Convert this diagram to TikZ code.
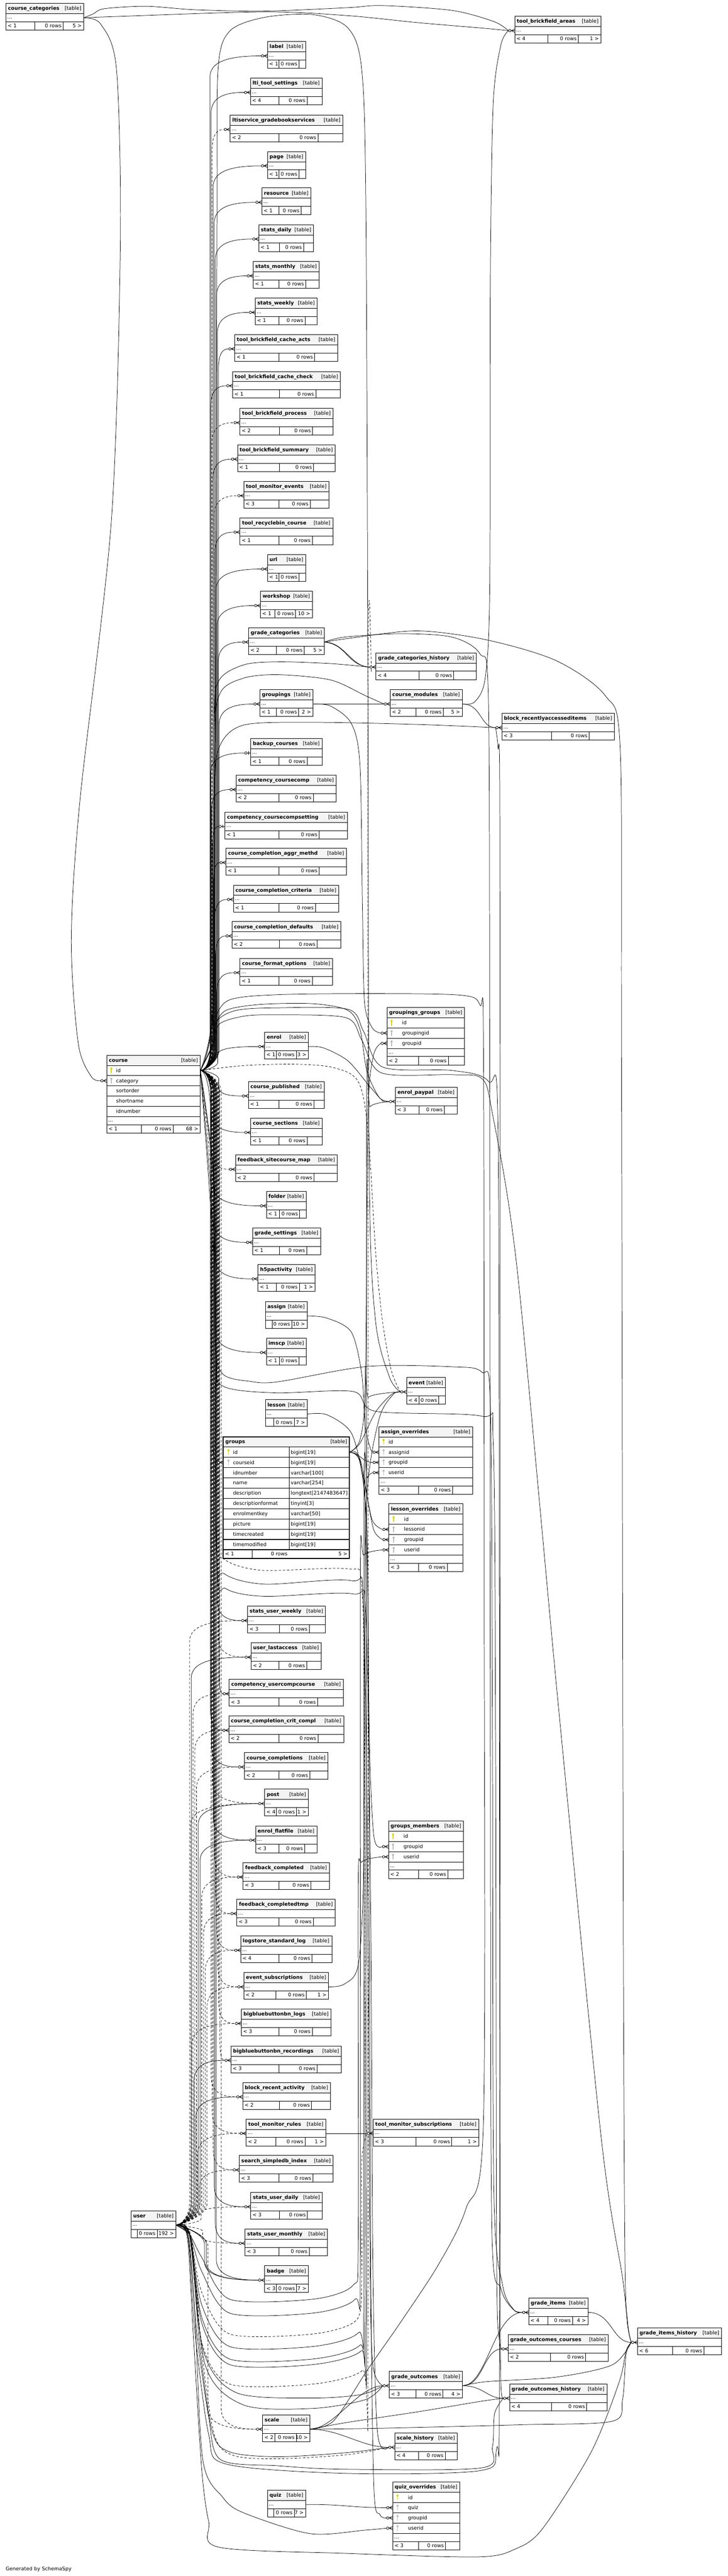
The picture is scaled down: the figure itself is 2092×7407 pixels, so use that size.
\documentclass[tikz,border=0pt]{standalone}
\usepackage{fontspec}
\setmainfont{DejaVu Sans}
\usetikzlibrary{calc}
\pgfdeclarelayer{fg}
\pgfsetlayers{main,fg}
\definecolor{hdr}{HTML}{F4F4F4}
\definecolor{pkc}{HTML}{D8D800}
\definecolor{fkc}{HTML}{BDBDBD}
\newcommand\tabfont{\fontsize{7.25pt}{8.7pt}\selectfont}
\tikzset{
 tb/.style={line width=0.65pt},
 rel/.style={line width=0.55pt},
 imp/.style={dash pattern=on 3.5pt off 2.5pt},
 mkl/.style={line width=0.6pt},
 txt/.style={inner sep=0pt, outer sep=0pt, font=\tabfont},
}
% simple table: id name x0 x1 y0 L R d1 d2
\newcommand\mktab[9]{%
 \pgfmathsetmacro\tabw{(#4-#3)*0.5}%
 \node[fill=white,anchor=north west,inner sep=0pt,outer sep=0pt,minimum width=\tabw pt,minimum height=38.5pt] (#1) at (#3,#5) {};
 \fill[hdr] (#3,#5) rectangle (#4,#5+29.5);
 \draw[tb] (#3,#5) rectangle (#4,#5+77);
 \draw[tb] (#3,#5+29.5) -- (#4,#5+29.5) (#3,#5+53) -- (#4,#5+53) (#8,#5+53) -- (#8,#5+77) (#9,#5+53) -- (#9,#5+77);
 \node[txt,anchor=base west] (#1-n) at (#3+6,#5+19.5) {\bfseries #2};
 \node[txt,anchor=base east] (#1-t) at (#4-7,#5+19.5) {[table]};
 \node[txt,anchor=base west] (#1-d) at (#3+4,#5+44) {...};
 \node[txt,anchor=base west] (#1-l) at (#3+5,#5+70) {#6};
 \node[txt,anchor=base east] (#1-r) at (#9-5,#5+70) {0 rows};
 \node[txt,anchor=base east] (#1-c) at (#4-6,#5+70) {#7};
 \coordinate (#1-w) at (#3,#5+41.25);
 \coordinate (#1-in) at (#3-18,#5+41.25);
 \coordinate (#1-e) at (#4,#5+41.25);
}
\newcommand\setdiv[4]{\def\divA{#1}\def\divB{#2}\def\keyoff{#3}\def\txtoff{#4}}
% column table: id name x0 x1 y0 nrows L R
\newcommand\ctab[8]{%
 \def\cx{#3}\def\cxx{#4}\def\cy{#5}%
 \pgfmathsetmacro\ydots{#5+29.5+#6*29.4}%
 \pgfmathsetmacro\tabw{(#4-#3)*0.5}%
 \pgfmathsetmacro\tabh{(29.5+#6*29.4+48)*0.5}%
 \node[fill=white,anchor=north west,inner sep=0pt,outer sep=0pt,minimum width=\tabw pt,minimum height=\tabh pt] (#1) at (#3,#5) {};
 \fill[hdr] (#3,#5) rectangle (#4,#5+29.5);
 \draw[tb] (#3,#5) rectangle (#4,\ydots+48);
 \draw[tb] (#3,#5+29.5) -- (#4,#5+29.5);
 \foreach \i in {1,...,#6}{\draw[tb] (#3,#5+29.5+\i*29.4) -- (#4,#5+29.5+\i*29.4);}
 \draw[tb] (#3,\ydots+23.5) -- (#4,\ydots+23.5) (\divA,\ydots+23.5) -- (\divA,\ydots+48) (\divB,\ydots+23.5) -- (\divB,\ydots+48);
 \node[txt,anchor=base west] (#1-n) at (#3+6,#5+19.5) {\bfseries #2};
 \node[txt,anchor=base east] (#1-t) at (#4-7,#5+19.5) {[table]};
 \node[txt,anchor=base west] (#1-d) at (#3+4,\ydots+15) {...};
 \node[txt,anchor=base west] (#1-l) at (#3+5,\ydots+40.5) {#7};
 \node[txt,anchor=base east] (#1-r) at (\divB-5,\ydots+40.5) {0 rows};
 \node[txt,anchor=base east] (#1-c) at (#4-6,\ydots+40.5) {#8};
}
\newcommand\keyat[3]{\fill[#1] (#2,#3-5.5) circle[radius=1.6pt]; \draw[#1,line width=1.1pt] (#2,#3-5.5) -- (#2,#3+8);}
\newcommand\crw[4][]{%
 \pgfmathsetmacro\yc{\cy+29.5+(#3-0.5)*29.4}%
 \node[txt,anchor=base west] (#2-#3t) at (\cx+\txtoff,\yc+5) {#4};
 \coordinate (#2-#3w) at (\cx,\yc);
 \coordinate (#2-#3in) at (\cx-18,\yc);
 \coordinate (#2-#3e) at (\cxx,\yc);
 \ifx\relax#1\relax\else\keyat{#1}{\cx+\keyoff}{\yc}\fi
}
\newcommand\crowmk[1]{%
 \draw[mkl] ($(#1)+(-10,0)$) -- ($(#1)+(0,-5)$) ($(#1)+(-10,0)$) -- (#1) ($(#1)+(-10,0)$) -- ($(#1)+(0,5)$) ($(#1)+(-14,0)$) -- ($(#1)+(-10,0)$);
 \draw[mkl,fill=white] ($(#1)+(-14,0)$) circle[radius=1.75pt];
}
\newcommand\teemk[1]{%
 \draw[mkl] ($(#1)+(-14,0)$) -- (#1) ($(#1)+(-6,-5)$) -- ($(#1)+(-6,5)$);
 \draw[mkl,fill=white] ($(#1)+(-14,0)$) circle[radius=1.75pt];
}
% bundle connector: [opts]{from}{to}{channel x}
\newcommand\bund[4][]{%
 \draw[rel,#1] let \p1=(#2), \p2=(#3), \n1={ifthenelse(\y2>\y1,1,-1)}, \n2={min(30,abs(\y2-\y1)/3)} in
 (#2) .. controls (\x1+8pt,\y1) and (#4*0.5pt,\y1+\n1*\n2*0.5pt) .. (#4*0.5pt,\y1+\n1*\n2*1pt)
 -- (#4*0.5pt,\y2-\n1*\n2*1pt)
 .. controls (#4*0.5pt,\y2-\n1*\n2*0.15pt) and ({(\x2+#4*0.5pt)/2},\y2) .. (#3);
}
% user arc to column-3 tables: [opts]{to}{bottom y}{channel x}
\newcommand\uarc[4][]{%
 \coordinate (uarcc) at (#4,0);
 \draw[rel,#1] plot[smooth,tension=0.45] coordinates {(usr-e) (545,6425) (580,#3-120) (660,#3) (900,#3) (#4-15,#3-40) (#4,#3-160) ($(uarcc |- #2)+(0,90)$) ($(uarcc |- #2)+(10,15)$) (#2)};
}
\begin{document}
\begin{tikzpicture}[x=0.5pt,y=-0.5pt]
\useasboundingbox (0,0) rectangle (2092,7407);
\fill[white] (0,0) rectangle (2092,7407);

\begin{pgfonlayer}{fg}
% ---- left tables
\mktab{cc}{course\_categories}{17}{241}{10}{< 1}{5 >}{100}{182}
\mktab{usr}{user}{377}{506}{6357}{}{192 >}{395}{452}
\setdiv{407}{498}{13}{27}
\ctab{crs}{course}{307}{576}{3034}{5}{< 1}{68 >}
\crw[pkc]{crs}{1}{id}
\crw[fkc]{crs}{2}{category}
\crw{crs}{3}{sortorder}
\crw{crs}{4}{shortname}
\crw{crs}{5}{idnumber}
% ---- column 2
\mktab{lbl}{label}{769}{879}{119.5}{< 1}{}{802}{860}
\mktab{lti}{lti\_tool\_settings}{720}{926}{224.5}{< 4}{}{802}{883}
\mktab{lgb}{ltiservice\_gradebookservices}{662}{986}{331}{< 2}{}{802}{914}
\mktab{page}{page}{769}{879}{435.6}{< 1}{}{802}{860}
\mktab{res}{resource}{753}{894}{540.5}{< 1}{}{802}{866}
\mktab{sd}{stats\_daily}{744}{902}{646}{< 1}{}{803}{873}
\mktab{sm}{stats\_monthly}{728}{918}{752}{< 1}{}{802}{879}
\mktab{sw}{stats\_weekly}{734}{912}{857}{< 1}{}{802}{877}
\mktab{tbca}{tool\_brickfield\_cache\_acts}{675}{971}{962}{< 1}{}{802}{905}
\mktab{tbcc}{tool\_brickfield\_cache\_check}{669}{979}{1068}{< 1}{}{803}{908}
\mktab{tbp}{tool\_brickfield\_process}{690}{958}{1174}{< 2}{}{803}{899}
\mktab{tbs}{tool\_brickfield\_summary}{683}{964}{1279}{< 1}{}{803}{902}
\mktab{tme}{tool\_monitor\_events}{701}{946}{1384}{< 3}{}{802}{892}
\mktab{trc}{tool\_recyclebin\_course}{690}{957}{1489}{< 1}{}{802}{898}
\mktab{url}{url}{769}{879}{1595}{< 1}{}{802}{860}
\mktab{ws}{workshop}{749}{898}{1700}{< 1}{10 >}{790}{850}
\mktab{gc}{grade\_categories}{715}{933}{1805}{< 2}{5 >}{795}{875}
\mktab{grp}{groupings}{747}{900}{1983}{< 1}{2 >}{795}{859}
\mktab{bc}{backup\_courses}{721}{926}{2124}{< 1}{}{802}{883}
\mktab{ccmp}{competency\_coursecomp}{679}{967}{2229}{< 2}{}{802}{901}
\mktab{ccs}{competency\_coursecompsetting}{647}{999}{2335}{< 1}{}{802}{918}
\mktab{ccam}{course\_completion\_aggr\_methd}{650}{996}{2439}{< 1}{}{802}{918}
\mktab{ccc}{course\_completion\_criteria}{671}{974}{2545}{< 1}{}{802}{907}
\mktab{ccd}{course\_completion\_defaults}{667}{980}{2650}{< 2}{}{803}{912}
\mktab{cfo}{course\_format\_options}{690}{956}{2755.5}{< 1}{}{802}{898}
\mktab{enr}{enrol}{761}{887}{2968}{< 1}{3 >}{795}{852}
\mktab{cp}{course\_published}{714}{932}{3110}{< 1}{}{802}{903}
\mktab{cs}{course\_sections}{721}{926}{3215}{< 1}{}{802}{883}
\mktab{fsm}{feedback\_sitecourse\_map}{677}{970}{3321}{< 2}{}{802}{903}
\mktab{fld}{folder}{766}{881}{3426}{< 1}{}{804}{862}
\mktab{gs}{grade\_settings}{726}{922}{3531}{< 1}{}{803}{882}
\mktab{h5p}{h5pactivity}{742}{906}{3636}{< 1}{1 >}{795}{861}
\mktab{asg}{assign}{763}{883}{3742.5}{}{10 >}{783}{839}
\mktab{ims}{imscp}{766}{881}{3847.7}{< 1}{}{803}{860}
\mktab{les}{lesson}{763}{883}{4024.7}{}{7 >}{787}{846}
\mktab{suw}{stats\_user\_weekly}{712}{936}{4618.6}{< 3}{}{803}{889}
\mktab{ula}{user\_lastaccess}{722}{924}{4723.8}{< 2}{}{802}{882}
\mktab{cuc}{competency\_usercompcourse}{659}{987}{4829}{< 3}{}{802}{913}
\mktab{ccco}{course\_completion\_crit\_compl}{658}{988}{4934}{< 2}{}{802}{914}
\mktab{ccpl}{course\_completions}{703}{943}{5039.5}{< 2}{}{802}{891}
\mktab{post}{post}{761}{887}{5144.7}{< 4}{1 >}{795}{853}
\mktab{ef}{enrol\_flatfile}{735}{911}{5250}{< 3}{}{802}{876}
\mktab{fc}{feedback\_completed}{699}{947}{5356}{< 3}{}{802}{894}
\mktab{fct}{feedback\_completedtmp}{681}{964}{5461}{< 3}{}{802}{901}
\mktab{lsl}{logstore\_standard\_log}{692}{954}{5566.5}{< 4}{}{802}{897}
\mktab{es}{event\_subscriptions}{701}{945}{5671.7}{< 2}{1 >}{793.5}{881}
\mktab{bbl}{bigbluebuttonbn\_logs}{694}{952}{5777}{< 3}{}{802}{898}
\mktab{bbr}{bigbluebuttonbn\_recordings}{664}{982}{5883}{< 3}{}{802}{912}
\mktab{bra}{block\_recent\_activity}{698}{950}{5988}{< 2}{}{803}{896}
\mktab{tmr}{tool\_monitor\_rules}{708}{937}{6093}{< 2}{1 >}{793.5}{877}
\mktab{ssi}{search\_simpledb\_index}{688}{958}{6198}{< 3}{}{802}{900}
\mktab{sud}{stats\_user\_daily}{721}{927}{6304}{< 3}{}{803}{884}
\mktab{sum}{stats\_user\_monthly}{705}{942}{6409}{< 3}{}{802}{889}
\mktab{bdg}{badge}{761}{887}{6515}{< 3}{7 >}{795}{853}
\mktab{scl}{scale}{755}{891}{6943.6}{< 2}{10 >}{790.5}{852}
\mktab{quiz}{quiz}{769}{879}{7160}{}{7 >}{788}{846}
% ---- groups (focal table)
\node[fill=white,anchor=north west,inner sep=0pt,outer sep=0pt,minimum width=181.5pt,minimum height=174.75pt] (grps) at (642,4131.5) {};
\fill[hdr] (642,4131.5) rectangle (1005,4161);
\foreach \i in {0,...,10}{\draw[line width=0.9pt] (642,4161+\i*29.5) -- (1005,4161+\i*29.5);}
\draw[line width=0.9pt] (831.6,4161) -- (831.6,4456) (725.7,4456) -- (725.7,4481);
\draw[line width=1.5pt] (642,4131.5) rectangle (1005,4481);
\node[txt,anchor=base west] (grps-n) at (648,4150.5) {\bfseries groups};
\node[txt,anchor=base east] (grps-t) at (998,4150.5) {[table]};
\foreach \i/\nm/\ty in {1/id/bigint[19],2/courseid/bigint[19],3/idnumber/varchar[100],4/name/varchar[254],5/description/longtext[2147483647],6/descriptionformat/tinyint[3],7/enrolmentkey/varchar[50],8/picture/bigint[19],9/timecreated/bigint[19],10/timemodified/bigint[19]}{
  \node[txt,anchor=base west] (grps-c\i) at (670,4161+\i*29.5-9.75) {\nm};
  \node[txt,anchor=base west] (grps-y\i) at (836,4161+\i*29.5-9.75) {\ty};
}
\keyat{pkc}{657}{4175.75}
\keyat{fkc}{657}{4205.25}
\node[txt,anchor=base west] (grps-l) at (647,4473) {< 1};
\node[txt,anchor=base east] (grps-r) at (826.6,4473) {0 rows};
\node[txt,anchor=base east] (grps-c) at (999,4473) {5 >};
\coordinate (grps-1e) at (1005,4175.75);
\coordinate (grps-2w) at (642,4205.25);
\coordinate (grps-2in) at (624,4205.25);
% ---- column 3
\mktab{gch}{grade\_categories\_history}{1081}{1370}{1877}{< 4}{}{1205}{1305}
\mktab{cm}{course\_modules}{1122}{1329}{1983}{< 2}{5 >}{1196.5}{1274.6}
\mktab{ep}{enrol\_paypal}{1137}{1314}{3126}{< 3}{}{1205}{1278}
\mktab{evt}{event}{1169}{1281}{3961}{< 4}{}{1205}{1262}
\mktab{tms}{tool\_monitor\_subscriptions}{1073}{1377}{6093}{< 3}{1 >}{1196.5}{1299}
\mktab{go}{grade\_outcomes}{1119}{1330}{6818.6}{< 3}{4 >}{1196.5}{1273.6}
\mktab{sh}{scale\_history}{1135}{1315}{6995.7}{< 4}{}{1204}{1280}
\setdiv{1203}{1289}{13}{43}
\ctab{ggr}{groupings\_groups}{1113}{1336}{2897}{3}{< 2}{}
\crw[pkc]{ggr}{1}{id}
\crw[fkc]{ggr}{2}{groupingid}
\crw[fkc]{ggr}{3}{groupid}
\setdiv{1203}{1301}{13}{27}
\ctab{ao}{assign\_overrides}{1090}{1359}{4102}{4}{< 3}{}
\crw[pkc]{ao}{1}{id}
\crw[fkc]{ao}{2}{assignid}
\crw[fkc]{ao}{3}{groupid}
\crw[fkc]{ao}{4}{userid}
\setdiv{1203}{1286}{14}{44}
\ctab{lo}{lesson\_overrides}{1118}{1331}{4324}{4}{< 3}{}
\crw[pkc]{lo}{1}{id}
\crw[fkc]{lo}{2}{lessonid}
\crw[fkc]{lo}{3}{groupid}
\crw[fkc]{lo}{4}{userid}
\setdiv{1203}{1288}{13}{43.5}
\ctab{gm}{groups\_members}{1117}{1333}{5236}{3}{< 2}{}
\crw[pkc]{gm}{1}{id}
\crw[fkc]{gm}{2}{groupid}
\crw[fkc]{gm}{3}{userid}
\setdiv{1204}{1281}{14}{44}
\ctab{qo}{quiz\_overrides}{1129}{1322}{7137}{4}{< 3}{}
\crw[pkc]{qo}{1}{id}
\crw[fkc]{qo}{2}{quiz}
\crw[fkc]{qo}{3}{groupid}
\crw[fkc]{qo}{4}{userid}
% ---- columns 4 and 5
\mktab{tba}{tool\_brickfield\_areas}{1480}{1728}{47}{< 4}{1 >}{1575}{1663}
\mktab{bri}{block\_recentlyaccesseditems}{1443}{1767}{2051}{< 3}{}{1585}{1694}
\mktab{gi}{grade\_items}{1520}{1691}{6607.7}{< 4}{4 >}{1576}{1646}
\mktab{goc}{grade\_outcomes\_courses}{1461}{1749}{6712.8}{< 2}{}{1583}{1684}
\mktab{goh}{grade\_outcomes\_history}{1465}{1745}{6854.7}{< 4}{}{1585}{1687}
\mktab{gih}{grade\_items\_history}{1833}{2075}{6694}{< 6}{}{1934}{2024}
\node[txt,anchor=base west] (gen) at (16.5,7392) {Generated by SchemaSpy};
% ---- markers
\foreach \tn in {lbl,lti,lgb,page,res,sd,sm,sw,tbca,tbcc,tbp,tbs,tme,trc,url,ws,gc,grp,ccmp,ccam,ccc,ccd,cfo,enr,cp,cs,fsm,fld,gs,h5p,ims,suw,ula,cuc,ccco,ccpl,post,ef,fc,fct,lsl,es,bbl,bbr,bra,tmr,ssi,sud,sum,bdg,scl,gch,cm,ep,evt,tms,go,sh,tba,bri,gi,goc,goh,gih}{\crowmk{\tn-w}}
\teemk{bc-w}
\teemk{ccs-w}
\foreach \tn in {crs-2w,grps-2w,ggr-2w,ggr-3w,ao-2w,ao-3w,ao-4w,lo-2w,lo-3w,lo-4w,gm-2w,gm-3w,qo-2w,qo-3w,qo-4w}{\crowmk{\tn}}
\end{pgfonlayer}

% ================= connectors =================
% course -> column 2
\bund{crs-1e}{lbl-in}{604}
\bund{crs-1e}{lti-in}{607}
\bund[imp]{crs-1e}{lgb-in}{610}
\bund{crs-1e}{page-in}{613}
\bund{crs-1e}{res-in}{616}
\bund{crs-1e}{sd-in}{619}
\bund{crs-1e}{sm-in}{622}
\bund{crs-1e}{sw-in}{625}
\bund{crs-1e}{tbca-in}{628}
\bund{crs-1e}{tbcc-in}{606}
\bund[imp]{crs-1e}{tbp-in}{609}
\bund{crs-1e}{tbs-in}{612}
\bund[imp]{crs-1e}{tme-in}{615}
\bund{crs-1e}{trc-in}{618}
\bund{crs-1e}{url-in}{621}
\bund{crs-1e}{ws-in}{624}
\bund{crs-1e}{gc-in}{627}
\bund{crs-1e}{grp-in}{630}
\bund{crs-1e}{bc-in}{605}
\bund{crs-1e}{ccmp-in}{608}
\bund{crs-1e}{ccs-in}{611}
\bund{crs-1e}{ccam-in}{614}
\bund{crs-1e}{ccc-in}{617}
\bund{crs-1e}{ccd-in}{620}
\bund{crs-1e}{cfo-in}{623}
\bund{crs-1e}{enr-in}{626}
\bund{crs-1e}{cp-in}{629}
\bund{crs-1e}{cs-in}{606}
\bund[imp]{crs-1e}{fsm-in}{609}
\bund{crs-1e}{fld-in}{612}
\bund{crs-1e}{gs-in}{615}
\bund{crs-1e}{h5p-in}{618}
\bund{crs-1e}{ims-in}{621}
\draw[rel] plot[smooth,tension=0.5] coordinates {(crs-1e) (606,3200) (610,4000) (612,4170) (grps-2in)};
\bund{crs-1e}{suw-in}{624}
\bund[imp]{crs-1e}{ula-in}{627}
\bund{crs-1e}{cuc-in}{630}
\bund{crs-1e}{ccco-in}{605}
\bund{crs-1e}{ccpl-in}{608}
\bund[imp]{crs-1e}{post-in}{611}
\bund{crs-1e}{ef-in}{614}
\bund[imp]{crs-1e}{fc-in}{617}
\bund[imp]{crs-1e}{fct-in}{620}
\bund[imp]{crs-1e}{lsl-in}{623}
\bund[imp]{crs-1e}{es-in}{626}
\bund[imp]{crs-1e}{bbl-in}{629}
\bund[imp]{crs-1e}{bbr-in}{632}
\bund[imp]{crs-1e}{bra-in}{607}
\bund[imp]{crs-1e}{tmr-in}{610}
\bund[imp]{crs-1e}{ssi-in}{613}
\bund{crs-1e}{sud-in}{616}
\bund{crs-1e}{sum-in}{619}
\bund{crs-1e}{bdg-in}{622}
\bund[imp]{crs-1e}{scl-in}{636}
% user -> column 2
\bund[imp]{usr-e}{suw-in}{545}
\bund{usr-e}{ula-in}{550}
\bund[imp]{usr-e}{cuc-in}{555}
\bund[imp]{usr-e}{ccco-in}{560}
\bund[imp]{usr-e}{ccpl-in}{565}
\bund{usr-e}{post-in}{570}
\bund[imp]{usr-e}{post-in}{548}
\bund{usr-e}{ef-in}{575}
\bund[imp]{usr-e}{fc-in}{580}
\bund[imp]{usr-e}{fct-in}{585}
\bund[imp]{usr-e}{lsl-in}{590}
\bund[imp]{usr-e}{es-in}{595}
\bund[imp]{usr-e}{bbl-in}{552}
\bund{usr-e}{bbr-in}{558}
\bund{usr-e}{bra-in}{563}
\bund[imp]{usr-e}{tmr-in}{568}
\bund[imp]{usr-e}{ssi-in}{573}
\bund[imp]{usr-e}{sud-in}{578}
\bund[imp]{usr-e}{sum-in}{583}
\bund{usr-e}{bdg-in}{588}
\bund{usr-e}{bdg-in}{593}
\bund[imp]{usr-e}{scl-in}{598}
% course_categories
\draw[rel] plot[smooth,tension=0.5] coordinates {(cc-e) (290,70) (335,200) (346,700) (320,1500) (230,2300) (205,2700) (225,3000) (262,3095) (crs-2in)};
\draw[rel] plot[smooth,tension=0.5] coordinates {(cc-e) (268,40) (300,25) (420,18) (560,28) (760,32) (1000,22) (1100,16) (1300,30) (1420,62) (tba-in)};
\draw[rel] plot[smooth,tension=0.5] coordinates {(cc-e) (320,48) (760,34) (1000,45) (1200,65) (1400,82) (tba-in)};
% course -> event over the top
\draw[rel] plot[smooth,tension=0.5] coordinates {(crs-1e) (612,2950) (620,2000) (624,600) (627,200) (660,90) (760,50) (900,42) (1000,80) (1040,200) (1052,600) (1058,2000) (1062,3400) (1080,3800) (1120,3960) (evt-in)};
% grade_categories
\draw[rel] (gc-e) .. controls (990,1846) and (1010,1918) .. (gch-in);
\draw[rel] (gc-e) .. controls (1000,1854) and (995,1912) .. (gch-in);
\draw[rel] plot[smooth,tension=0.5] coordinates {(gc-e) (990,1832) (1150,1822) (1300,1832) (1380,1880) (1404,2000) (1408,3000) (1410,5000) (1414,6400) (1440,6580) (1475,6640) (gi-in)};
\draw[rel] plot[smooth,tension=0.5] coordinates {(gc-e) (1000,1836) (1200,1814) (1400,1840) (1600,1900) (1740,2000) (1783,2150) (1787,3000) (1792,5500) (1797,6500) (1805,6680) (gih-in)};
% groupings, course_modules
\draw[rel] (grp-e) -- (cm-in);
\draw[rel] plot[smooth,tension=0.5] coordinates {(grp-e) (950,2030) (1010,2080) (1035,2200) (1042,2600) (1048,2880) (1070,2955) (ggr-2in)};
\draw[rel] plot[smooth,tension=0.5] coordinates {(cm-e) (1365,2018) (1395,1950) (1408,1700) (1410,800) (1418,300) (1440,130) (tba-in)};
\draw[rel] (cm-e) .. controls (1385,2024) and (1380,2092) .. (bri-in);
% course -> column 3/4
\draw[rel] plot[smooth,tension=0.5] coordinates {(crs-1e) (612,2900) (617,2300) (630,2150) (700,2085) (900,2077) (1200,2083) (bri-in)};
\draw[rel] plot[smooth,tension=0.5] coordinates {(crs-1e) (611,2900) (616,2100) (628,1960) (700,1912) (800,1903) (950,1908) (gch-in)};
\draw[rel] plot[smooth,tension=0.5] coordinates {(crs-1e) (613,2900) (618,2150) (632,1995) (700,1950) (800,1940) (950,1955) (1050,2000) (cm-in)};
\draw[rel] plot[smooth,tension=0.5] coordinates {(enr-e) (930,3013) (1000,3050) (1060,3120) (1100,3165) (ep-in)};
\draw[rel] plot[smooth,tension=0.5] coordinates {(crs-1e) (612,3000) (618,2950) (650,2905) (750,2888) (900,2886) (1000,2905) (1035,2960) (1055,3080) (1090,3155) (ep-in)};
\draw[rel,imp] plot[smooth,tension=0.5] coordinates {(crs-1e) (700,3064) (850,3060) (960,3070) (1030,3110) (1058,3250) (1080,3600) (1100,3800) (1125,3940) (evt-in)};
\draw[rel] plot[smooth,tension=0.5] coordinates {(crs-1e) (612,3000) (618,2930) (660,2875) (800,2860) (1100,2857) (1330,2862) (1380,2890) (1390,3000) (1392,4500) (1390,6100) (1340,6350) (1261,6511) (1150,6680) (1056,6815) (960,6960) (scl-e)};
\draw[rel] plot[smooth,tension=0.5] coordinates {(crs-1e) (614,3400) (618,3850) (640,3950) (720,3972) (800,3973) (1056,3929) (1300,3930) (1385,3945) (1410,4040) (1416,5000) (1420,6300) (1445,6570) (1478,6642) (gi-in)};
\draw[rel] plot[smooth,tension=0.5] coordinates {(crs-1e) (616,3400) (622,3900) (640,3985) (790,4005) (1015,4001) (1080,4058) (1385,4072) (1418,4140) (1425,5000) (1428,6500) (1435,6720) (goc-in)};
\draw[rel] plot[smooth,tension=0.5] coordinates {(crs-1e) (615,3000) (630,2945) (700,2922) (790,2918) (994,2926) (1040,2990) (1097,3085) (1302,3090) (1385,3101) (1415,3197) (1487,3650) (1605,4900) (1729,6150) (1790,6550) (1805,6690) (gih-in)};
\draw[rel] plot[smooth,tension=0.5] coordinates {(crs-1e) (613,3000) (625,2935) (680,2905) (790,2898) (1000,2902) (1045,2965) (1100,3068) (1300,3078) (1405,3110) (1432,3250) (1436,5000) (1438,6500) (1440,6850) (goh-in)};
\draw[rel,imp] plot[smooth,tension=0.5] coordinates {(crs-1e) (614,3500) (620,4400) (640,4480) (750,4515) (1000,4511) (1040,4560) (1048,5000) (1050,6000) (1053,6110) (tms-in)};
\draw[rel] plot[smooth,tension=0.5] coordinates {(crs-1e) (616,3600) (622,4450) (645,4525) (760,4555) (1010,4545) (1045,4620) (1058,5500) (1064,6500) (1072,6800) (go-in)};
\draw[rel] plot[smooth,tension=0.5] coordinates {(crs-1e) (618,3700) (624,4500) (650,4568) (760,4590) (1015,4583) (1052,4650) (1066,5500) (1072,6500) (1085,6990) (sh-in)};
% assign, lesson, groups
\draw[rel] plot[smooth,tension=0.5] coordinates {(asg-e) (940,3790) (1010,3830) (1040,3950) (1050,4100) (1065,4165) (ao-2in)};
\draw[rel] plot[smooth,tension=0.5] coordinates {(les-e) (940,4068) (1010,4120) (1045,4250) (1070,4370) (lo-2in)};
\draw[rel] plot[smooth,tension=0.5] coordinates {(grps-1e) (1035,4140) (1050,4000) (1055,3500) (1060,3150) (1075,3030) (ggr-3in)};
\draw[rel] (grps-1e) .. controls (1035,4176) and (1040,4205) .. (ao-3in);
\draw[rel] plot[smooth,tension=0.5] coordinates {(grps-1e) (1035,4195) (1055,4300) (1075,4400) (lo-3in)};
\draw[rel] plot[smooth,tension=0.5] coordinates {(grps-1e) (1035,4205) (1055,4400) (1062,5000) (1075,5280) (gm-2in)};
\draw[rel] plot[smooth,tension=0.5] coordinates {(grps-1e) (1038,4215) (1058,4600) (1066,6500) (1075,7150) (1092,7230) (qo-3in)};
\draw[rel] plot[smooth,tension=0.5] coordinates {(grps-1e) (1035,4150) (1080,4060) (1125,4010) (evt-in)};
\draw[rel] plot[smooth,tension=0.5] coordinates {(es-e) (990,5705) (1030,5650) (1045,5400) (1048,4800) (1055,4300) (1090,4080) (1130,4010) (evt-in)};
\draw[rel] (tmr-e) -- (tms-in);
\draw[rel] (quiz-e) .. controls (1000,7201) and (1000,7210) .. (qo-2in);
% scale, grade_outcomes, grade_items
\draw[rel] (scl-e) .. controls (960,6985) and (1030,6860) .. (go-in);
\draw[rel] (scl-e) .. controls (980,6985) and (1040,7037) .. (sh-in);
\draw[rel] plot[smooth,tension=0.5] coordinates {(scl-e) (1000,6965) (1200,6935) (1380,6905) (goh-in)};
\draw[rel] plot[smooth,tension=0.5] coordinates {(scl-e) (1100,6982) (1500,6972) (1760,6962) (1790,6900) (1800,6770) (gih-in)};
\draw[rel] (go-e) .. controls (1390,6860) and (1390,6754) .. (goc-in);
\draw[rel] (go-e) .. controls (1390,6860) and (1400,6896) .. (goh-in);
\draw[rel] (go-e) .. controls (1400,6860) and (1420,6650) .. (gi-in);
\draw[rel] plot[smooth,tension=0.5] coordinates {(go-e) (1400,6848) (1600,6835) (1760,6800) (gih-in)};
\draw[rel] (gi-e) .. controls (1760,6649) and (1760,6735) .. (gih-in);
% user -> column 3/4
\uarc{gm-3in}{6611}{1030}
\uarc{lo-4in}{6651}{1036}
\uarc[imp]{tms-in}{6711}{1040}
\uarc{ao-4in}{6747}{1046}
\uarc{evt-in}{6783}{1050}
\uarc{ep-in}{6799}{1054}
\uarc[imp]{gch-in}{6855}{1058}
\draw[rel] plot[smooth,tension=0.5] coordinates {(usr-e) (545,6430) (585,6760) (680,6880) (900,6895) (1040,6885) (go-in)};
\draw[rel] plot[smooth,tension=0.5] coordinates {(usr-e) (548,6432) (590,6800) (700,6915) (900,6925) (1050,6900) (go-in)};
\draw[rel] plot[smooth,tension=0.5] coordinates {(usr-e) (540,6430) (560,6650) (583,7072) (640,7180) (700,7225) (891,7285) (1050,7275) (qo-4in)};
\draw[rel] plot[smooth,tension=0.5] coordinates {(usr-e) (538,6430) (555,6700) (580,7100) (600,7250) (629,7324) (1000,7342) (1374,7352) (1480,7330) (1559,7272) (1700,7050) (1780,6850) (1800,6760) (gih-in)};
\draw[rel] plot[smooth,tension=0.5] coordinates {(usr-e) (542,6430) (565,6700) (600,6950) (634,7072) (800,7090) (994,7100) (1385,7096) (1416,7035) (1422,6940) (goh-in)};
\draw[rel] plot[smooth,tension=0.5] coordinates {(usr-e) (546,6430) (575,6750) (610,6990) (660,7050) (800,7064) (1000,7052) (sh-in)};
\draw[rel,imp] plot[smooth,tension=0.5] coordinates {(usr-e) (550,6432) (580,6760) (616,7000) (670,7060) (800,7070) (1000,7058) (sh-in)};
\draw[rel] plot[smooth,tension=0.5] coordinates {(usr-e) (540,6430) (560,6700) (600,7000) (650,7085) (1000,7112) (1380,7104) (1428,7040) (1436,6800) (1438,4000) (1437,2300) (1432,2150) (bri-in)};
\end{tikzpicture}
\end{document}
